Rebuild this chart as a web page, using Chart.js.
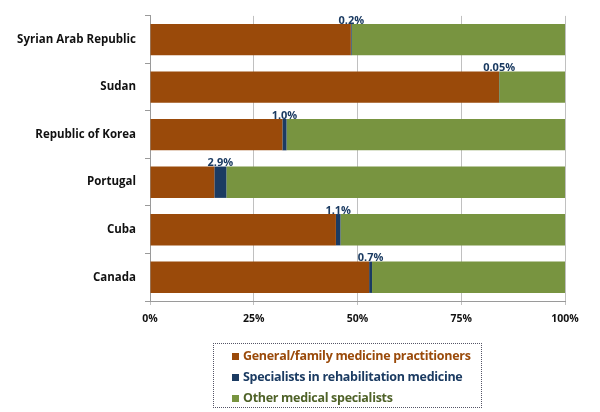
<!DOCTYPE html>
<html>
<head>
<meta charset="utf-8">
<script src="https://cdn.jsdelivr.net/npm/chart.js@4"></script>
<style>
  body { margin: 0; background: #fff; }
  #wrap { position: relative; width: 600px; height: 412px; }
  #legend {
    position: absolute; left: 213px; top: 343px; width: 269px; height: 65px;
    border: 1px dotted #556; box-sizing: border-box;
    font-family: "Open Sans", sans-serif; font-weight: bold; font-size: 12.5px;
    letter-spacing: -0.3px; padding: 1px 0 0 18px;
  }
  #legend div { height: 21px; line-height: 21px; white-space: nowrap; }
  #legend span { display: inline-block; width: 7px; height: 7px; margin-right: 4px; }
</style>
</head>
<body>
<div id="wrap">
  <canvas id="myChart" width="600" height="412"></canvas>
  <div id="legend"></div>
</div>
<script>
let countries = ["Syrian Arab Republic", "Sudan", "Republic of Korea", "Portugal", "Cuba", "Canada"];
let general = [48.4, 84.1, 31.9, 15.5, 44.8, 52.8];
let rehab = [0.2, 0.05, 1.0, 2.9, 1.1, 0.7];
let other = [51.4, 15.85, 67.1, 81.6, 54.1, 46.5];
let rehabLabels = ["0.2%", "0.05%", "1.0%", "2.9%", "1.1%", "0.7%"];
let seriesNames = ["General/family medicine practitioners", "Specialists in rehabilitation medicine", "Other medical specialists"];
let seriesColors = ["#9a4a0a", "#1b3b62", "#789440"];
let textColors = ["#9a4a0a", "#1b3b62", "#4f6228"];
let xTicks = [0, 25, 50, 75, 100];

// labels over the rehab segment
const rehabText = {
    id: "rehabText",
    afterDatasetsDraw(chart) {
        const ctx = chart.ctx;
        const meta = chart.getDatasetMeta(1);
        ctx.save();
        ctx.font = "bold 11px 'Open Sans', sans-serif";
        ctx.fillStyle = "#1b3b62";
        ctx.textAlign = "center";
        ctx.textBaseline = "bottom";
        meta.data.forEach(function (bar, i) {
            const cx = (bar.x + bar.base) / 2;
            ctx.fillText(rehabLabels[i], cx, bar.y - bar.height / 2 + 2);
        });
        ctx.restore();
    }
};

new Chart("myChart", {
    type: "bar",
    data: {
        labels: countries,
        datasets: [
            { label: seriesNames[0], data: general, backgroundColor: seriesColors[0] },
            { label: seriesNames[1], data: rehab, backgroundColor: seriesColors[1] },
            { label: seriesNames[2], data: other, backgroundColor: seriesColors[2] }
        ]
    },
    options: {
        indexAxis: "y",
        responsive: false,
        animation: false,
        datasets: { bar: { barPercentage: 0.66, categoryPercentage: 1 } },
        layout: { padding: { top: 13, right: 35, bottom: 90, left: 0 } },
        plugins: { legend: { display: false }, tooltip: { enabled: false } },
        scales: {
            x: {
                stacked: true,
                min: 0, max: 100,
                afterBuildTicks: function (scale) { scale.ticks = xTicks.map(v => ({ value: v })); },
                afterFit: function (scale) { scale.height = 21; },
                grid: { color: "#c0c0c0", tickLength: 4, lineWidth: 1 },
                border: { color: "#9a9a9a" },
                ticks: {
                    padding: 8,
                    color: "#111",
                    font: { family: "'Open Sans', sans-serif", size: 10.5, weight: "bold" },
                    callback: v => v + "%"
                }
            },
            y: {
                stacked: true,
                afterFit: function (scale) { scale.width = 150; },
                grid: { drawOnChartArea: false, tickLength: 5, color: "#9a9a9a" },
                border: { color: "#9a9a9a" },
                ticks: {
                    padding: 9,
                    color: "#111",
                    font: { family: "'Open Sans', sans-serif", size: 11.5, weight: "bold" }
                }
            }
        }
    },
    plugins: [rehabText]
});

let legend = document.getElementById("legend");
seriesNames.forEach(function (name, i) {
    let row = document.createElement("div");
    row.style.color = textColors[i];
    let box = document.createElement("span");
    box.style.background = seriesColors[i];
    row.appendChild(box);
    row.appendChild(document.createTextNode(name));
    legend.appendChild(row);
});
</script>
</body>
</html>
